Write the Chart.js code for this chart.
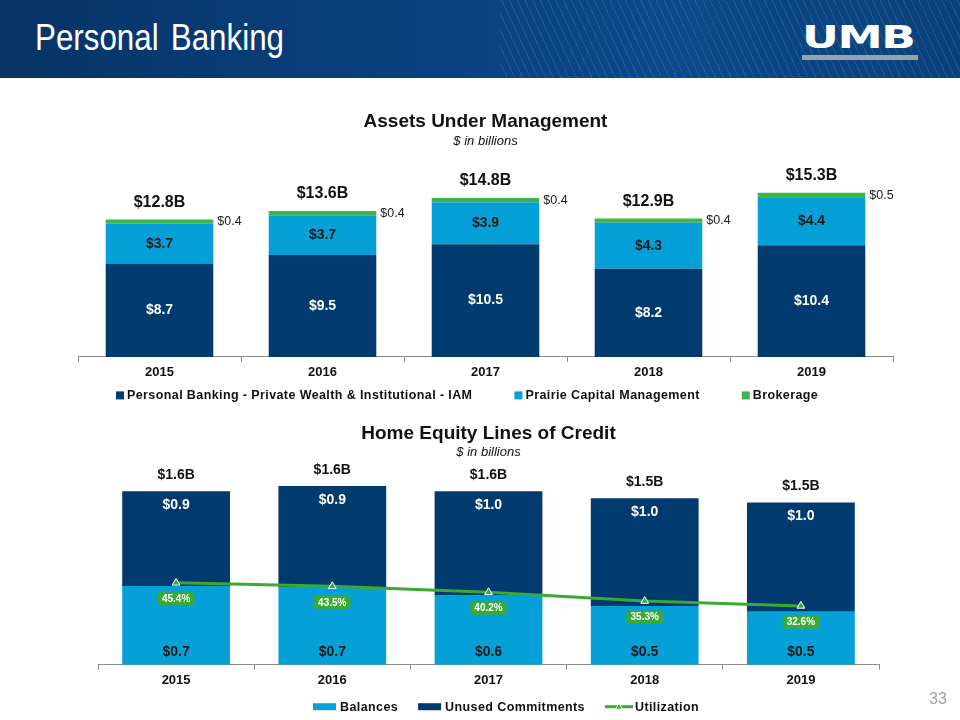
<!DOCTYPE html>
<html>
<head>
<meta charset="utf-8">
<title>Personal Banking</title>
<script src="https://cdn.jsdelivr.net/npm/chart.js@4.4.1/dist/chart.umd.min.js"></script>
<style>
  body { margin: 0; width: 960px; height: 720px; position: relative; background: #fff; overflow: hidden;
         font-family: "Liberation Sans", Arial, sans-serif; }
  #header { position: absolute; left: 0; top: 0; width: 960px; height: 78px; overflow: hidden;
            background: linear-gradient(90deg, #083466 0%, #0a4180 45%, #0b4a8b 70%, #0a4079 100%); }
  #stripes { position: absolute; left: 500px; top: 0; width: 460px; height: 78px;
             background: repeating-linear-gradient(65deg, rgba(255,255,255,0) 0 6px, rgba(140,185,230,0.16) 6px 7px); }
  #pageTitle { position: absolute; left: 35px; top: 17px; color: #fff; font-size: 36px; word-spacing: 4px;
               transform: scale(0.87, 1); transform-origin: left top; white-space: nowrap; }
  #logo { position: absolute; left: 802px; top: 21px; width: 116px; }
  #logo .txt { color: #fff; font-family: "DejaVu Sans", sans-serif; font-weight: bold; font-size: 32px;
               line-height: 32px; letter-spacing: -1px; transform: scale(1.42, 1); transform-origin: left top; }
  #logo .bar { margin-top: 2px; height: 5px; background: #9aa3ad; }
  #pageNum { position: absolute; left: 929px; top: 690px; color: #a0a0a0; font-size: 16px; }
  canvas { position: absolute; left: 0; }
  #aumChart { top: 95px; }
  #helocChart { top: 415px; }
</style>
</head>
<body>
<div id="header">
  <div id="stripes"></div>
  <div id="pageTitle">Personal Banking</div>
  <div id="logo"><div class="txt">UMB</div><div class="bar"></div></div>
</div>
<canvas id="aumChart" width="960" height="320"></canvas>
<canvas id="helocChart" width="960" height="305"></canvas>
<div id="pageNum">33</div>

<script>
// Assets Under Management ($ in billions)
const aumYears = ['2015', '2016', '2017', '2018', '2019'];
const aumPrivateWealth = [8.7, 9.5, 10.5, 8.2, 10.4];
const aumPrairie = [3.7, 3.7, 3.9, 4.3, 4.4];
const aumBrokerage = [0.4, 0.4, 0.4, 0.4, 0.5];

// Home Equity Lines of Credit ($ in billions, utilization in %)
const helocYears = ['2015', '2016', '2017', '2018', '2019'];
const helocBalances = [0.726, 0.717, 0.643, 0.542, 0.487];
const helocUnused = [0.874, 0.931, 0.957, 0.993, 1.008];
const helocUtilization = [45.4, 43.5, 40.2, 35.3, 32.6];

const NAVY = '#003a6e';
const SKY = '#06a0d9';
const GREEN = '#3db54a';
const LINE_GREEN = '#3aaa35';
const FONT = '"Liberation Sans", Arial, sans-serif';

// draws the numbers on/around the bars and line points
const valueLabels = {
  id: 'valueLabels',
  afterDatasetsDraw(chart, args, opts) {
    const ctx = chart.ctx;
    ctx.save();
    ctx.textAlign = 'center';
    ctx.textBaseline = 'middle';
    chart.data.datasets.forEach((ds, i) => {
      const st = opts.styles[i];
      if (!st) return;
      const meta = chart.getDatasetMeta(i);
      meta.data.forEach((el, j) => {
        const p = el.getProps(['x', 'y', 'base', 'width'], true);
        const text = st.prefix + ds.data[j].toFixed(1) + st.suffix;
        ctx.font = st.font;
        ctx.fillStyle = st.color;
        if (st.pos === 'center') {
          ctx.fillText(text, p.x, (p.y + p.base) / 2);
        } else if (st.pos === 'insideTop') {
          ctx.fillText(text, p.x, p.y + st.offset);
        } else if (st.pos === 'insideBase') {
          ctx.fillText(text, p.x, p.base - st.offset);
        } else if (st.pos === 'right') {
          ctx.textAlign = 'left';
          ctx.fillText(text, p.x + p.width / 2 + 4, (p.y + p.base) / 2);
          ctx.textAlign = 'center';
        } else if (st.pos === 'box') {
          const w = ctx.measureText(text).width + 8, h = 13, cy = p.y + st.offset;
          ctx.fillStyle = st.boxColor;
          ctx.beginPath();
          ctx.roundRect(p.x - w / 2, cy - h / 2, w, h, 2);
          ctx.fill();
          ctx.fillStyle = st.color;
          ctx.fillText(text, p.x, cy + 0.5);
        }
      });
    });
    // stack totals above the bars
    const tot = opts.totals;
    if (tot) {
      ctx.font = tot.font;
      ctx.fillStyle = tot.color;
      chart.data.labels.forEach((lbl, j) => {
        let sum = 0, top = Infinity, x = 0;
        chart.data.datasets.forEach((ds, i) => {
          if (ds.type === 'line') return;
          sum += ds.data[j];
          const el = chart.getDatasetMeta(i).data[j];
          top = Math.min(top, el.y);
          x = el.x;
        });
        ctx.fillText('$' + sum.toFixed(1) + 'B', x, top - tot.offset);
      });
    }
    ctx.restore();
  }
};

// slide-style legend under the axis
const slideLegend = {
  id: 'slideLegend',
  afterDraw(chart, args, opts) {
    const ctx = chart.ctx;
    const y = chart.chartArea.bottom + opts.offsetY;
    let x = opts.startX;
    ctx.save();
    ctx.font = opts.font;
    ctx.letterSpacing = '0.4px';
    ctx.textBaseline = 'middle';
    ctx.textAlign = 'left';
    chart.data.datasets.forEach(ds => {
      if (ds.type === 'line') {
        ctx.strokeStyle = ds.borderColor;
        ctx.lineWidth = 3;
        ctx.beginPath();
        ctx.moveTo(x, y);
        ctx.lineTo(x + 28, y);
        ctx.stroke();
        const cx = x + 14;
        ctx.fillStyle = ds.borderColor;
        ctx.strokeStyle = '#fff';
        ctx.lineWidth = 1;
        ctx.beginPath();
        ctx.moveTo(cx, y - 3.5);
        ctx.lineTo(cx + 3.5, y + 2.5);
        ctx.lineTo(cx - 3.5, y + 2.5);
        ctx.closePath();
        ctx.fill();
        ctx.stroke();
        x += 30;
      } else {
        ctx.fillStyle = ds.backgroundColor;
        ctx.fillRect(x, y - opts.boxH / 2, opts.boxW, opts.boxH);
        x += opts.boxW + opts.textGap;
      }
      ctx.fillStyle = '#111';
      ctx.fillText(ds.label, x, y + 0.5);
      x += ctx.measureText(ds.label).width + opts.itemGap;
    });
    ctx.restore();
  }
};

const xAxis = () => ({
  stacked: true,
  grid: { drawOnChartArea: false, drawTicks: true, tickLength: 5, color: '#8c8c8c', offset: true },
  border: { display: true, color: '#8c8c8c', width: 1 },
  ticks: { color: '#111', font: { family: FONT, size: 13, weight: 'bold' }, padding: 3 }
});

new Chart(document.getElementById('aumChart'), {
  type: 'bar',
  data: {
    labels: aumYears,
    datasets: [
      { label: 'Personal Banking - Private Wealth & Institutional - IAM', data: aumPrivateWealth,
        backgroundColor: NAVY, categoryPercentage: 1, barPercentage: 0.66 },
      { label: 'Prairie Capital Management', data: aumPrairie,
        backgroundColor: SKY, categoryPercentage: 1, barPercentage: 0.66 },
      { label: 'Brokerage', data: aumBrokerage,
        backgroundColor: GREEN, categoryPercentage: 1, barPercentage: 0.66 }
    ]
  },
  options: {
    responsive: false,
    animation: false,
    layout: { padding: { left: 78, right: 67, top: 0, bottom: 31.5 } },
    scales: {
      x: xAxis(),
      y: { stacked: true, display: false, min: 0, max: 17 }
    },
    plugins: {
      legend: { display: false },
      tooltip: { enabled: false },
      title: { display: true, text: 'Assets Under Management', color: '#111',
               font: { family: FONT, size: 19, weight: 'bold' }, padding: { top: 15, bottom: 0 } },
      subtitle: { display: true, text: '$ in billions', color: '#111',
                  font: { family: FONT, size: 13, style: 'italic' }, padding: { top: 1, bottom: 25 } },
      valueLabels: {
        styles: [
          { pos: 'center', prefix: '$', suffix: '', color: '#fff', font: 'bold 14px ' + FONT },
          { pos: 'center', prefix: '$', suffix: '', color: '#1a1a1a', font: 'bold 14px ' + FONT },
          { pos: 'right', prefix: '$', suffix: '', color: '#1a1a1a', font: '12.5px ' + FONT }
        ],
        totals: { font: 'bold 16px ' + FONT, color: '#111', offset: 17 }
      },
      slideLegend: { offsetY: 38.5, startX: 116, font: 'bold 12.5px ' + FONT,
                     boxW: 8, boxH: 8, textGap: 3, itemGap: 42 }
    }
  },
  plugins: [valueLabels, slideLegend]
});

new Chart(document.getElementById('helocChart'), {
  type: 'bar',
  data: {
    labels: helocYears,
    datasets: [
      { label: 'Balances', data: helocBalances, backgroundColor: SKY,
        categoryPercentage: 1, barPercentage: 0.69, order: 2 },
      { label: 'Unused Commitments', data: helocUnused, backgroundColor: NAVY,
        categoryPercentage: 1, barPercentage: 0.69, order: 2 },
      { type: 'line', label: 'Utilization', data: helocUtilization, yAxisID: 'y2', order: 0,
        borderColor: LINE_GREEN, borderWidth: 3, tension: 0,
        pointStyle: 'triangle', pointRadius: 4.5, pointBackgroundColor: LINE_GREEN,
        pointBorderColor: '#fff', pointBorderWidth: 1 }
    ]
  },
  options: {
    responsive: false,
    animation: false,
    layout: { padding: { left: 98, right: 81, top: 0, bottom: 28.7 } },
    scales: {
      x: xAxis(),
      y: { stacked: true, display: false, min: 0, max: 1.662 },
      y2: { display: false, min: 0, max: 100 }
    },
    plugins: {
      legend: { display: false },
      tooltip: { enabled: false },
      title: { display: true, text: 'Home Equity Lines of Credit', color: '#111',
               font: { family: FONT, size: 19, weight: 'bold' }, padding: { top: 7, bottom: 0 } },
      subtitle: { display: true, text: '$ in billions', color: '#111',
                  font: { family: FONT, size: 13, style: 'italic' }, padding: { top: 0, bottom: 24 } },
      valueLabels: {
        styles: [
          { pos: 'insideBase', offset: 13, prefix: '$', suffix: '', color: '#1a1a1a', font: 'bold 14px ' + FONT },
          { pos: 'insideTop', offset: 14, prefix: '$', suffix: '', color: '#fff', font: 'bold 14px ' + FONT },
          { pos: 'box', offset: 16, prefix: '', suffix: '%', color: '#fff', boxColor: LINE_GREEN, font: 'bold 10px ' + FONT }
        ],
        totals: { font: 'bold 14px ' + FONT, color: '#111', offset: 16 }
      },
      slideLegend: { offsetY: 42, startX: 313, font: 'bold 12.5px ' + FONT,
                     boxW: 23, boxH: 7, textGap: 4, itemGap: 20 }
    }
  },
  plugins: [valueLabels, slideLegend]
});
</script>
</body>
</html>
